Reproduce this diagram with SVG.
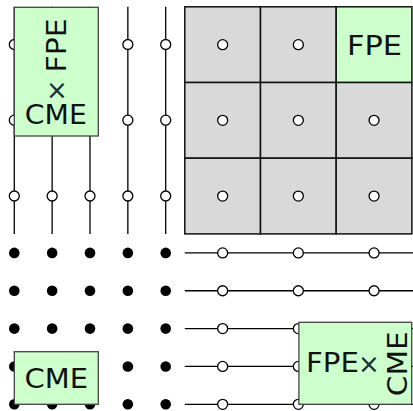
<svg xmlns="http://www.w3.org/2000/svg" width="413" height="411" viewBox="0 0 413 411">
<style>
.ln{stroke:#000;stroke-width:1.3;fill:none}
.oc{fill:#fff;stroke:#000;stroke-width:1.3}
.dot{fill:#000}
.cell{fill:#d9d9d9;stroke:#111;stroke-width:1.5}
.gcell{fill:#ccffcc;stroke:#111;stroke-width:1.5}
.gbox{fill:#ccffcc;stroke:#444;stroke-width:1.3}
.t{font-family:"DejaVu Sans","Liberation Sans",sans-serif;font-size:26px;fill:#111;text-anchor:middle}
.x{font-family:"DejaVu Sans","Liberation Sans",sans-serif;font-size:26px;fill:#2a2a2a;text-anchor:middle}
</style>
<defs>
<circle id="oc" r="5" class="oc"/>
<circle id="fd" r="5.3" class="dot"/>
</defs>
<rect width="413" height="411" fill="#fff"/>
<g id="connectors">
<line class="ln" x1="14.3" y1="6.8" x2="14.3" y2="234"/>
<line class="ln" x1="52.15" y1="6.8" x2="52.15" y2="234"/>
<line class="ln" x1="90" y1="6.8" x2="90" y2="234"/>
<line class="ln" x1="127.85" y1="6.8" x2="127.85" y2="234"/>
<line class="ln" x1="165.7" y1="6.8" x2="165.7" y2="234"/>
<line class="ln" x1="184.8" y1="252.9" x2="413" y2="252.9"/>
<line class="ln" x1="184.8" y1="290.75" x2="413" y2="290.75"/>
<line class="ln" x1="184.8" y1="328.6" x2="413" y2="328.6"/>
<line class="ln" x1="184.8" y1="366.45" x2="413" y2="366.45"/>
<line class="ln" x1="184.8" y1="404.3" x2="413" y2="404.3"/>
</g>
<g id="vertical-nodes">
<use href="#oc" x="14.3" y="44.5"/><use href="#oc" x="14.3" y="120.2"/><use href="#oc" x="14.3" y="196"/>
<use href="#oc" x="52.15" y="44.5"/><use href="#oc" x="52.15" y="120.2"/><use href="#oc" x="52.15" y="196"/>
<use href="#oc" x="90" y="44.5"/><use href="#oc" x="90" y="120.2"/><use href="#oc" x="90" y="196"/>
<use href="#oc" x="127.85" y="44.5"/><use href="#oc" x="127.85" y="120.2"/><use href="#oc" x="127.85" y="196"/>
<use href="#oc" x="165.7" y="44.5"/><use href="#oc" x="165.7" y="120.2"/><use href="#oc" x="165.7" y="196"/>
</g>
<g id="horizontal-nodes">
<use href="#oc" x="222.65" y="252.9"/><use href="#oc" x="298.35" y="252.9"/><use href="#oc" x="374.05" y="252.9"/>
<use href="#oc" x="222.65" y="290.75"/><use href="#oc" x="298.35" y="290.75"/><use href="#oc" x="374.05" y="290.75"/>
<use href="#oc" x="222.65" y="328.6"/><use href="#oc" x="298.35" y="328.6"/><use href="#oc" x="374.05" y="328.6"/>
<use href="#oc" x="222.65" y="366.45"/><use href="#oc" x="298.35" y="366.45"/><use href="#oc" x="374.05" y="366.45"/>
<use href="#oc" x="222.65" y="404.3"/><use href="#oc" x="298.35" y="404.3"/><use href="#oc" x="374.05" y="404.3"/>
</g>
<g id="dots">
<use href="#fd" x="14.3" y="252.9"/><use href="#fd" x="52.15" y="252.9"/><use href="#fd" x="90" y="252.9"/><use href="#fd" x="127.85" y="252.9"/><use href="#fd" x="165.7" y="252.9"/>
<use href="#fd" x="14.3" y="290.75"/><use href="#fd" x="52.15" y="290.75"/><use href="#fd" x="90" y="290.75"/><use href="#fd" x="127.85" y="290.75"/><use href="#fd" x="165.7" y="290.75"/>
<use href="#fd" x="14.3" y="328.6"/><use href="#fd" x="52.15" y="328.6"/><use href="#fd" x="90" y="328.6"/><use href="#fd" x="127.85" y="328.6"/><use href="#fd" x="165.7" y="328.6"/>
<use href="#fd" x="14.3" y="366.45"/><use href="#fd" x="52.15" y="366.45"/><use href="#fd" x="90" y="366.45"/><use href="#fd" x="127.85" y="366.45"/><use href="#fd" x="165.7" y="366.45"/>
<use href="#fd" x="14.3" y="404.3"/><use href="#fd" x="52.15" y="404.3"/><use href="#fd" x="90" y="404.3"/><use href="#fd" x="127.85" y="404.3"/><use href="#fd" x="165.7" y="404.3"/>
</g>
<g id="grid">
<rect class="cell" x="184.8" y="6.8" width="75.7" height="75.7"/>
<rect class="cell" x="260.5" y="6.8" width="75.7" height="75.7"/>
<rect class="gcell" x="336.2" y="6.8" width="75.7" height="75.7"/>
<rect class="cell" x="184.8" y="82.5" width="75.7" height="75.7"/>
<rect class="cell" x="260.5" y="82.5" width="75.7" height="75.7"/>
<rect class="cell" x="336.2" y="82.5" width="75.7" height="75.7"/>
<rect class="cell" x="184.8" y="158.2" width="75.7" height="75.7"/>
<rect class="cell" x="260.5" y="158.2" width="75.7" height="75.7"/>
<rect class="cell" x="336.2" y="158.2" width="75.7" height="75.7"/>
<use href="#oc" x="222.65" y="44.65"/><use href="#oc" x="298.35" y="44.65"/>
<use href="#oc" x="222.65" y="120.35"/><use href="#oc" x="298.35" y="120.35"/><use href="#oc" x="374.05" y="120.35"/>
<use href="#oc" x="222.65" y="196.05"/><use href="#oc" x="298.35" y="196.05"/><use href="#oc" x="374.05" y="196.05"/>
<text class="t" x="374.5" y="55.3" textLength="55" lengthAdjust="spacingAndGlyphs">FPE</text>
</g>
<g id="fpe-x-cme-top">
<rect class="gbox" x="14.3" y="7.3" width="84" height="128.7"/>
<text class="t" transform="translate(65.5,45.5) rotate(-90)" textLength="54" lengthAdjust="spacingAndGlyphs">FPE</text>
<text class="x" x="57" y="99.4">×</text>
<text class="t" x="55.8" y="124" textLength="62" lengthAdjust="spacingAndGlyphs">CME</text>
</g>
<g id="cme">
<rect class="gbox" x="14.3" y="351.7" width="84" height="52.6"/>
<text class="t" x="56.3" y="388.3" textLength="63.5" lengthAdjust="spacingAndGlyphs">CME</text>
</g>
<g id="fpe-x-cme-bottom">
<rect class="gbox" x="298.9" y="322.3" width="112.8" height="82"/>
<text class="t" x="332.5" y="371.7" textLength="53" lengthAdjust="spacingAndGlyphs">FPE</text>
<text class="x" x="368.8" y="372.6">×</text>
<text class="t" transform="translate(406.7,363.8) rotate(-90)" textLength="65" lengthAdjust="spacingAndGlyphs">CME</text>
</g>
</svg>
